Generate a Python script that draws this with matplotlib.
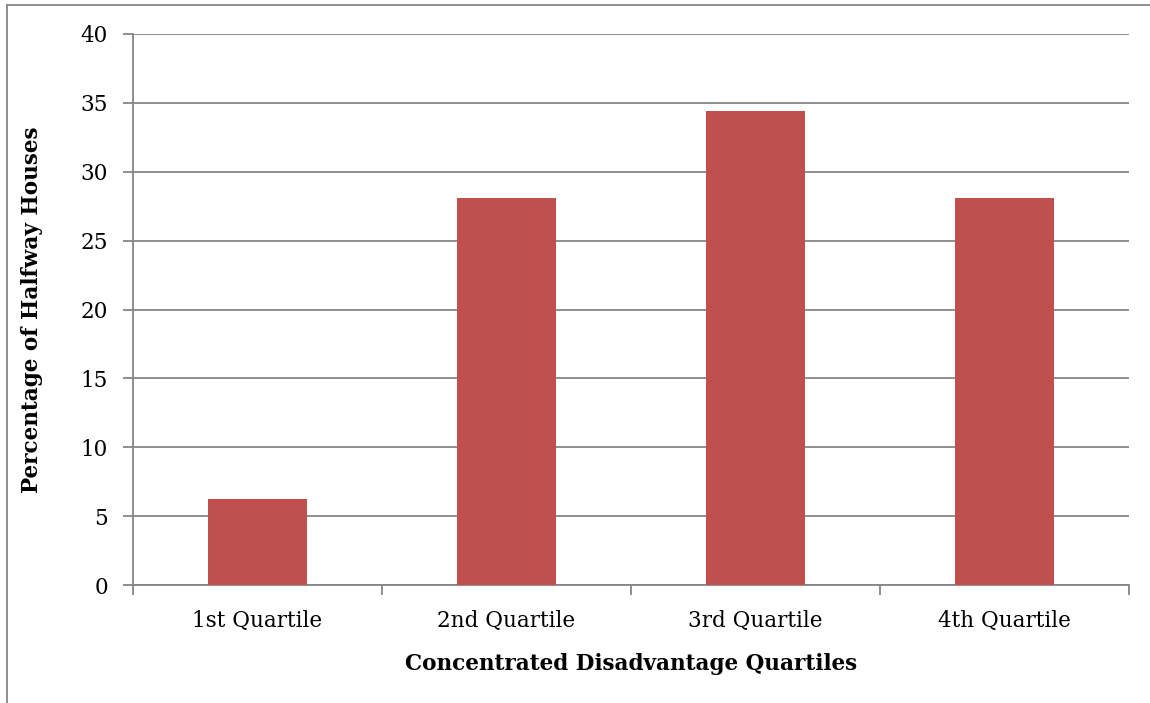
import numpy as np
import matplotlib.pyplot as plt
from matplotlib.lines import Line2D

# data
categories = ["1st Quartile", "2nd Quartile", "3rd Quartile", "4th Quartile"]
percent = [6.25, 28.125, 34.375, 28.125]
yticks = [0, 5, 10, 15, 20, 25, 30, 35, 40]

bar_color = "#C0504D"
grid_color = "#868686"

plt.rcParams['font.family'] = ['DejaVu Serif']

W, H = 1150, 703
fig = plt.figure(figsize=(W / 100, H / 100), dpi=100)
ax = fig.add_axes([133 / W, 1 - 585 / H, (1129 - 133) / W, (585 - 34) / H])

x = np.arange(len(categories))
ax.bar(x, percent, width=0.4, color=bar_color, zorder=3)

ax.set_xlim(-0.5, len(categories) - 0.5)
ax.set_ylim(0, 40)
ax.set_yticks(yticks)
ax.set_xticks(x)
ax.set_xticklabels(categories)
ax.set_xticks(np.arange(len(categories) + 1) - 0.5, minor=True)
ax.tick_params(axis='x', which='major', length=0, pad=18, labelsize=15.5)
ax.tick_params(axis='x', which='minor', length=7, color=grid_color, width=1.3)
ax.tick_params(axis='y', length=7, color=grid_color, width=1.3, pad=11, labelsize=15.5)

ax.yaxis.grid(True, color=grid_color, linewidth=1.3, zorder=0)
for s in ['top', 'right']:
    ax.spines[s].set_visible(False)
for s in ['left', 'bottom']:
    ax.spines[s].set_color(grid_color)
    ax.spines[s].set_linewidth(1.3)

ax.set_xlabel("Concentrated Disadvantage Quartiles", fontsize=15.5, fontweight='bold', labelpad=15)
ax.set_ylabel("Percentage of Halfway Houses", fontsize=15.5, fontweight='bold', labelpad=27)

# outer chart border (partially cropped in the original)
fig.add_artist(Line2D([7 / W, 1], [1 - 5 / H, 1 - 5 / H], color=grid_color, linewidth=1.3))
fig.add_artist(Line2D([7 / W, 7 / W], [0, 1 - 5 / H], color=grid_color, linewidth=1.3))

fig.savefig("out.png", dpi=100)
